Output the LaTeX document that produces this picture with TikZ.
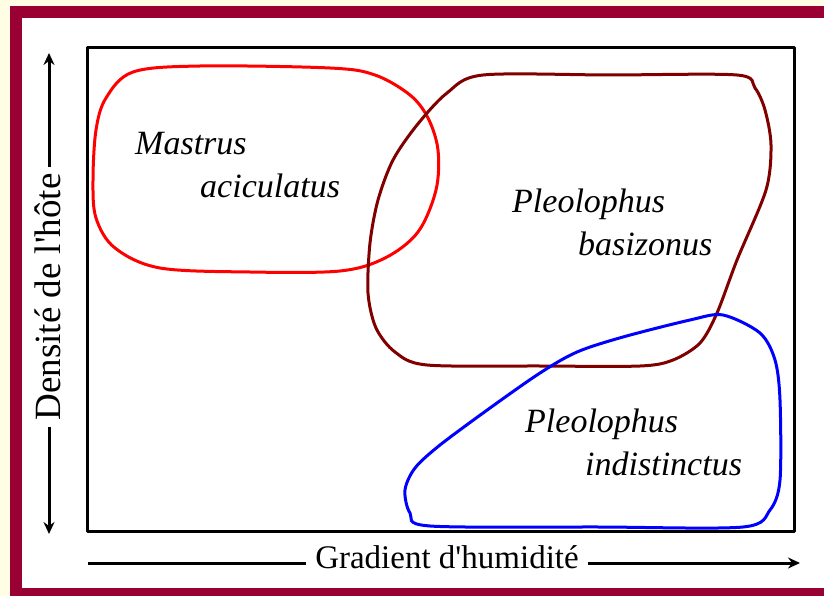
\documentclass[tikz,border=0pt]{standalone}
\usepackage{fontspec}
\setmainfont{Liberation Serif}
\usetikzlibrary{arrows.meta}
\definecolor{framered}{HTML}{990033}
\definecolor{cream}{HTML}{FFFDE3}
\definecolor{darkmaroon}{HTML}{800000}
\begin{document}
\begin{tikzpicture}[x=1pt,y=-1pt,line join=round,
  species/.style={font=\fontsize{34}{36}\selectfont\itshape, anchor=base west, inner sep=0pt},
  ylabel/.style={font=\fontsize{37}{40}\selectfont, inner sep=6pt, rotate=90},
  xlabel/.style={font=\fontsize{33}{36}\selectfont, inner sep=9pt},
  axisline/.style={line width=3pt},
  tipped/.style={-{Stealth[length=12pt,width=11pt,inset=4pt]}},
  blob/.style={line width=3pt}]
\useasboundingbox (0,0) rectangle (824,596);
% background and frame (frame strips on top, left and bottom only)
\fill[cream] (0,0) rectangle (824,596);
\fill[white] (22,18) rectangle (824,588);
\fill[framered] (10,6) rectangle (824,18);
\fill[framered] (10,6) rectangle (22,596);
\fill[framered] (10,588) rectangle (824,596);
% plot box
\draw[line width=3pt] (87,48) rectangle (794,531);
% regions
\draw[blob, red] plot[smooth cycle, tension=0.55] coordinates {
  (93,180) (96,130) (106,98) (133,72) (200,66) (330,68) (375,75) (410,95)
  (428,118) (438,150) (436,190) (418,232) (385,258) (340,271) (250,272)
  (160,268) (115,248) (96,218)};
\draw[blob, darkmaroon] plot[smooth cycle, tension=0.5] coordinates {
  (483,75) (610,75) (737,75) (755,88) (765,110) (771,145) (766,190)
  (737,260) (717,313) (700,343) (673,360) (640,366) (540,366) (427,365)
  (395,352) (376,328) (368,293) (370,243) (378,200) (393,160) (417,125) (447,93)};
\draw[blob, blue] plot[smooth cycle, tension=0.5] coordinates {
  (723,315) (760,333) (775,360) (780,400) (780,480) (770,510) (743,527)
  (600,527) (430,526) (410,513) (405,490) (415,468) (440,445) (490,408)
  (540,373) (577,352) (623,337) (690,320)};
% species labels
\node[species] (m1) at (135,155) {Mastrus};
\node[species] (m2) at (200,197) {aciculatus};
\node[species] (b1) at (512,212) {Pleolophus};
\node[species] (b2) at (578,255) {basizonus};
\node[species] (i1) at (525,432) {Pleolophus};
\node[species] (i2) at (585,475) {indistinctus};
% axes
\node[ylabel] (yl) at (48,297) {Densité de l\textquotesingle hôte};
\coordinate (yt) at (49,53);
\coordinate (yb) at (49,534);
\draw[axisline, tipped] (yl.east -| yt) -- (yt);
\draw[axisline, tipped] (yl.west -| yb) -- (yb);
\node[xlabel] (xl) at (447,557) {Gradient d\textquotesingle humidité};
\coordinate (xs) at (88,563);
\coordinate (xe) at (800,563);
\draw[axisline] (xs) -- (xs -| xl.west);
\draw[axisline, tipped] (xs -| xl.east) -- (xe);
\end{tikzpicture}
\end{document}
